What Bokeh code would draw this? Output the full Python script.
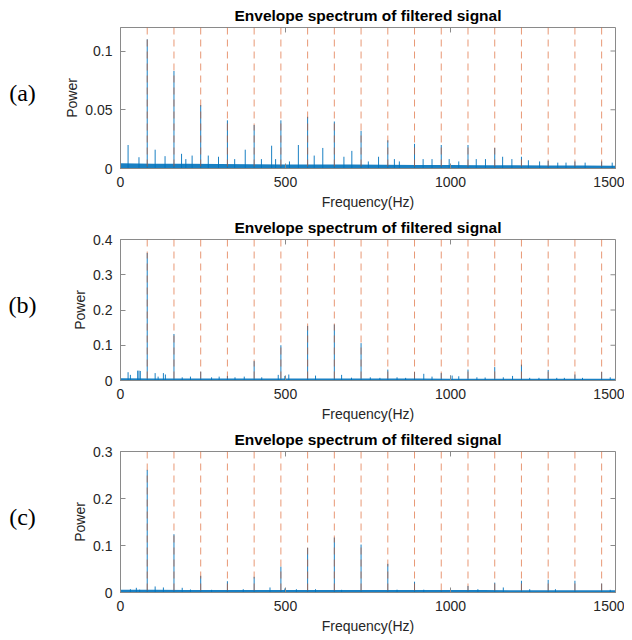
from bokeh.plotting import figure
from bokeh.models import Range1d, FixedTicker, PrintfTickFormatter, Span, ColumnDataSource
from bokeh.layouts import column, row
from bokeh.core.properties import value
from bokeh.embed import file_html
from bokeh.resources import INLINE

# ---------------- data ----------------
panel_letters = ["(a)", "(b)", "(c)"]
title_text = "Envelope spectrum of filtered signal"
x_label = "Frequency(Hz)"
y_label = "Power"
x_ticks = [0, 500, 1000, 1500]
y_ticks_a = [0, 0.05, 0.1]
y_ticks_b = [0, 0.1, 0.2, 0.3, 0.4]
y_ticks_c = [0, 0.1, 0.2, 0.3]
x_max = 1500
y_max = [0.12, 0.4, 0.3]

# fault characteristic frequency and its harmonics (dashed markers)
harmonics = [81, 162, 243, 324, 405, 486, 567, 648, 729, 810, 891, 972,
             1053, 1134, 1215, 1296, 1377, 1458]

# spectral peak heights at the harmonics
harm_power_a = [0.110, 0.083, 0.054, 0.041, 0.037, 0.041, 0.044, 0.040, 0.032,
                0.024, 0.021, 0.020, 0.020, 0.0175, 0.010, 0.0065, 0.006, 0.006]
harm_power_b = [0.362, 0.132, 0.025, 0.013, 0.055, 0.100, 0.155, 0.159, 0.106,
                0.031, 0.024, 0.021, 0.031, 0.038, 0.045, 0.030, 0.017, 0.024]
harm_power_c = [0.261, 0.124, 0.0355, 0.024, 0.0334, 0.055, 0.095, 0.117, 0.102,
                0.061, 0.023, 0.005, 0.014, 0.021, 0.025, 0.027, 0.025, 0.019]

# other smaller spikes
other_freq_a = [23, 56, 105, 135, 185, 198, 217, 266, 297, 346, 378, 427, 458,
                470, 512, 539, 587, 613, 677, 701, 751, 782, 830, 845, 917, 944,
                996, 1025, 1078, 1106, 1158, 1186, 1236, 1270, 1325, 1350, 1408, 1490]
other_power_a = [0.020, 0.0096, 0.016, 0.0105, 0.0125, 0.008, 0.011, 0.011, 0.010,
                 0.008, 0.016, 0.008, 0.0194, 0.008, 0.006, 0.020, 0.011, 0.0175,
                 0.010, 0.015, 0.006, 0.010, 0.008, 0.006, 0.008, 0.008, 0.008,
                 0.006, 0.008, 0.008, 0.010, 0.008, 0.007, 0.006, 0.005, 0.005,
                 0.005, 0.005]

other_freq_b = [23, 30, 52, 56, 60, 105, 114, 130, 136, 187, 212, 276, 299, 347,
                375, 428, 478, 498, 510, 591, 670, 700, 757, 786, 838, 864, 919,
                944, 1000, 1005, 1025, 1080, 1105, 1160, 1188, 1240, 1268, 1322,
                1345, 1400, 1484]
other_power_b = [0.0235, 0.016, 0.028, 0.028, 0.027, 0.021, 0.011, 0.021, 0.017,
                 0.009, 0.011, 0.009, 0.011, 0.009, 0.011, 0.009, 0.016, 0.013,
                 0.017, 0.014, 0.016, 0.008, 0.009, 0.0075, 0.009, 0.0075, 0.019,
                 0.011, 0.014, 0.014, 0.012, 0.009, 0.0085, 0.009, 0.013, 0.0075,
                 0.0075, 0.0075, 0.0075, 0.0075, 0.009]

other_freq_c = [30, 48, 58, 105, 130, 187, 212, 276, 372, 453, 498, 533, 591,
                670, 838, 919, 1083, 1160, 1240, 1318, 1484]
other_power_c = [0.007, 0.010, 0.006, 0.0128, 0.0107, 0.010, 0.0064, 0.0057,
                 0.007, 0.0107, 0.0085, 0.007, 0.007, 0.0057, 0.006, 0.006,
                 0.007, 0.0107, 0.007, 0.007, 0.0057]

# broadband noise floor level
floor_freq = [0, 100, 200, 300, 400, 500, 600, 700, 800, 900, 1000, 1100,
              1200, 1300, 1400, 1500]
floor_a = [0.0045, 0.0040, 0.0040, 0.0038, 0.0036, 0.0035, 0.0034, 0.0033,
           0.0031, 0.0030, 0.0029, 0.0028, 0.0027, 0.0026, 0.0025, 0.0024]
floor_b = [0.0065, 0.0060, 0.0058, 0.0058, 0.0056, 0.0056, 0.0055, 0.0055,
           0.0054, 0.0054, 0.0053, 0.0053, 0.0052, 0.0052, 0.0051, 0.0050]
floor_c = [0.0058, 0.0056, 0.0055, 0.0055, 0.0054, 0.0054, 0.0053, 0.0053,
           0.0052, 0.0052, 0.0051, 0.0051, 0.0050, 0.0050, 0.0050, 0.0050]

# ---------------- styling / layout ----------------
BLUE = "#0072BD"
ORANGE = "#D95319"
AXIS_GRAY = "#8a8a8a"
TEXT = "#262626"
FONT = "Liberation Sans"

FRAME_W = 495
FRAME_H = 142
LETTER_W = 60
LEFT = 60
RIGHT = 9
TOP = 26
TICK_PX = 5

panels = [
    dict(letter=panel_letters[0], ymax=y_max[0], yticks=y_ticks_a,
         hp=harm_power_a, of=other_freq_a, op=other_power_a,
         floor=floor_a, height=212),
    dict(letter=panel_letters[1], ymax=y_max[1], yticks=y_ticks_b,
         hp=harm_power_b, of=other_freq_b, op=other_power_b,
         floor=floor_b, height=212),
    dict(letter=panel_letters[2], ymax=y_max[2], yticks=y_ticks_c,
         hp=harm_power_c, of=other_freq_c, op=other_power_c,
         floor=floor_c, height=214),
]


def style_axis(ax, ticks):
    ax.ticker = FixedTicker(ticks=ticks)
    ax.axis_line_color = AXIS_GRAY
    ax.major_tick_line_color = AXIS_GRAY
    ax.minor_tick_line_color = None
    ax.major_tick_in = TICK_PX
    ax.major_tick_out = 0
    ax.major_label_text_font = FONT
    ax.major_label_text_font_size = "14px"
    ax.major_label_text_color = TEXT
    ax.axis_label_text_font = FONT
    ax.axis_label_text_font_size = "14px"
    ax.axis_label_text_font_style = "normal"
    ax.axis_label_text_color = TEXT


rows = []
for pn in panels:
    H = pn["height"]
    ymax = pn["ymax"]
    p = figure(width=LEFT + FRAME_W + RIGHT, height=H,
               x_range=Range1d(0, x_max), y_range=Range1d(0, ymax),
               output_backend="svg", toolbar_location=None,
               min_border_left=LEFT, min_border_right=RIGHT,
               min_border_top=TOP, min_border_bottom=H - TOP - FRAME_H)
    p.xgrid.visible = False
    p.ygrid.visible = False
    p.outline_line_color = AXIS_GRAY
    p.outline_line_width = 1
    p.background_fill_color = "white"
    p.border_fill_color = "white"

    # title
    p.title.text = title_text
    p.title.align = "center"
    p.title.text_font = FONT
    p.title.text_font_size = "15.5px"
    p.title.text_font_style = "bold"
    p.title.text_color = "#000000"
    p.title.standoff = 8
    p.title.offset = 0

    # noise floor
    fsrc = ColumnDataSource(dict(f=floor_freq, lvl=pn["floor"],
                                 zero=[0] * len(floor_freq)))
    p.varea(x="f", y1="zero", y2="lvl", source=fsrc, fill_color=BLUE, fill_alpha=0.9)

    # spikes
    sf = list(harmonics) + list(pn["of"])
    sp = list(pn["hp"]) + list(pn["op"])
    ssrc = ColumnDataSource(dict(f=sf, p=sp, zero=[0] * len(sf)))
    p.segment(x0="f", y0="zero", x1="f", y1="p", source=ssrc,
              line_color=BLUE, line_width=1, line_alpha=0.9)

    # harmonic markers
    for h in harmonics:
        p.add_layout(Span(location=h, dimension="height", line_color=ORANGE,
                          line_alpha=0.6, line_width=1, line_dash="7 5"))

    # mirrored inward ticks on the top and right edges of the box
    ty = ymax * TICK_PX / FRAME_H
    tx = x_max * TICK_PX / FRAME_W
    p.segment(x0=x_ticks, y0=[ymax] * len(x_ticks), x1=x_ticks,
              y1=[ymax - ty] * len(x_ticks), line_color=AXIS_GRAY, line_width=1)
    p.segment(x0=[x_max] * len(pn["yticks"]), y0=pn["yticks"],
              x1=[x_max - tx] * len(pn["yticks"]), y1=pn["yticks"],
              line_color=AXIS_GRAY, line_width=1)

    # axes
    style_axis(p.xaxis[0], x_ticks)
    style_axis(p.yaxis[0], pn["yticks"])
    p.yaxis[0].formatter = PrintfTickFormatter(format="%g")
    p.xaxis[0].axis_label = x_label
    p.yaxis[0].axis_label = y_label
    p.xaxis[0].major_label_standoff = 8
    p.yaxis[0].major_label_standoff = 8
    p.xaxis[0].axis_label_standoff = 4
    p.yaxis[0].axis_label_standoff = 2

    # panel letter in its own narrow figure
    lf = figure(width=LETTER_W, height=H, x_range=Range1d(0, LETTER_W),
                y_range=Range1d(0, H), output_backend="svg", toolbar_location=None,
                x_axis_location=None, y_axis_location=None, min_border=0)
    lf.xgrid.visible = False
    lf.ygrid.visible = False
    lf.outline_line_color = None
    lf.border_fill_color = "white"
    lf.text(x=[22], y=[H - 99], text=[pn["letter"]], text_align="center",
            text_baseline="middle", text_font=value("Liberation Serif"),
            text_font_size="24px", text_color="#000000")
    rows.append(row(lf, p, spacing=0))

layout = column(*rows, spacing=0)
open("out.html", "w").write(file_html(layout, INLINE))
